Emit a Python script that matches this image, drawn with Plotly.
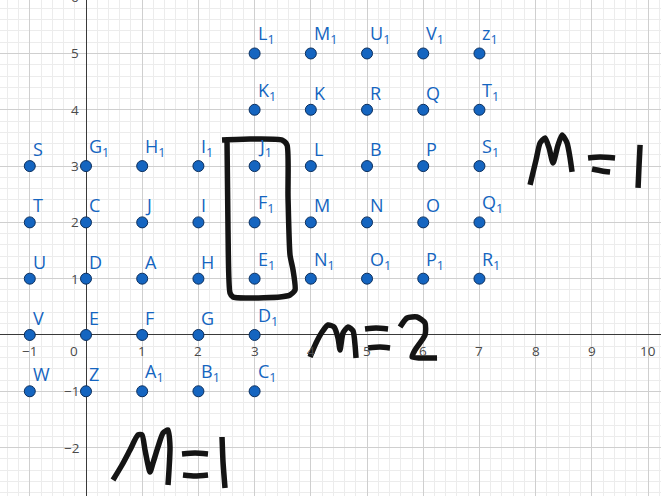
import plotly.graph_objects as go

# ---- data: labelled lattice points ----
names = ["L<sub>1</sub>", "M<sub>1</sub>", "U<sub>1</sub>", "V<sub>1</sub>", "z<sub>1</sub>",
         "K<sub>1</sub>", "K", "R", "Q", "T<sub>1</sub>",
         "S", "G<sub>1</sub>", "H<sub>1</sub>", "I<sub>1</sub>", "J<sub>1</sub>", "L", "B", "P", "S<sub>1</sub>",
         "T", "C", "J", "I", "F<sub>1</sub>", "M", "N", "O", "Q<sub>1</sub>",
         "U", "D", "A", "H", "E<sub>1</sub>", "N<sub>1</sub>", "O<sub>1</sub>", "P<sub>1</sub>", "R<sub>1</sub>",
         "V", "E", "F", "G", "D<sub>1</sub>",
         "W", "Z", "A<sub>1</sub>", "B<sub>1</sub>", "C<sub>1</sub>"]
xs = [3, 4, 5, 6, 7,
      3, 4, 5, 6, 7,
      -1, 0, 1, 2, 3, 4, 5, 6, 7,
      -1, 0, 1, 2, 3, 4, 5, 6, 7,
      -1, 0, 1, 2, 3, 4, 5, 6, 7,
      -1, 0, 1, 2, 3,
      -1, 0, 1, 2, 3]
ys = [5, 5, 5, 5, 5,
      4, 4, 4, 4, 4,
      3, 3, 3, 3, 3, 3, 3, 3, 3,
      2, 2, 2, 2, 2, 2, 2, 2, 2,
      1, 1, 1, 1, 1, 1, 1, 1, 1,
      0, 0, 0, 0, 0,
      -1, -1, -1, -1, -1]

x_ticks = [-1, 1, 2, 3, 4, 5, 6, 7, 8, 9, 10]
y_ticks = [-2, -1, 1, 2, 3, 4, 5, 6]

X_RANGE = [-1.53, 10.23]
Y_RANGE = [-2.86, 5.95]

# ---- handwritten ink, sketched in screen pixels, mapped to axis units ----
X0, Y0, UX, UY = 86.0, 335.0, 56.2, 56.3


def ink(pts):
    return [(px - X0) / UX for px, _ in pts], [(Y0 - py) / UY for _, py in pts]


strokes = [
    # rectangle
    [(222, 140), (250, 139), (282, 140), (287, 145), (288, 197), (290, 255), (293, 270),
     (295, 290), (290, 295), (280, 297), (247, 298), (233, 297), (230, 293), (228, 230), (227, 142)],
    # M = 1 (right)
    [(530, 185), (536, 160), (540, 143), (545, 138), (549, 148), (553, 163), (558, 145),
     (562, 135), (567, 143), (570, 158), (572, 172)],
    [(588, 158), (600, 157), (615, 158)],
    [(592, 169), (602, 171), (610, 172)],
    [(640, 145), (639, 165), (638, 188)],
    # m = 2
    [(310, 357), (316, 343), (322, 332), (328, 325), (334, 327), (338, 338), (340, 350),
     (343, 333), (348, 327), (353, 331), (355, 345), (356, 358)],
    [(365, 329), (376, 328), (388, 329)],
    [(368, 348), (380, 347), (390, 348)],
    [(400, 327), (407, 318), (417, 317), (425, 323), (425, 335), (415, 350), (412, 357),
     (420, 358), (437, 358)],
    # M = 1 (bottom)
    [(113, 480), (122, 465), (130, 450), (138, 435), (142, 435), (145, 450), (150, 472),
     (153, 463), (158, 447), (163, 433), (168, 430), (170, 447), (169, 470), (168, 485)],
    [(182, 454), (195, 453), (208, 454)],
    [(183, 475), (195, 476), (208, 475)],
    [(222, 437), (223, 462), (225, 488)],
]

BLUE = "#1565c0"
fig = go.Figure()

fig.add_trace(go.Scatter(
    x=xs, y=ys, mode="markers",
    marker=dict(size=11, color=BLUE, line=dict(color="#0b2f5e", width=1)),
    hoverinfo="skip", showlegend=False))

for s in strokes:
    sx, sy = ink(s)
    fig.add_trace(go.Scatter(
        x=sx, y=sy, mode="lines",
        line=dict(color="#141414", width=5.5, shape="spline", smoothing=0.6),
        hoverinfo="skip", showlegend=False))

annotations = []
for n, x, y in zip(names, xs, ys):
    annotations.append(dict(
        x=x, y=y, text=n, showarrow=False, xanchor="left", yanchor="bottom",
        xshift=1, yshift=3, font=dict(family="Open Sans", size=18, color=BLUE)))


def fmt(t):
    return ("−" + str(-t)) if t < 0 else str(t)


def ypaper(v):
    return (v - Y_RANGE[0]) / (Y_RANGE[1] - Y_RANGE[0])


tick_font = dict(family="Open Sans", size=13.5, color="#4a4a4a")
for t in x_ticks:
    annotations.append(dict(x=t, y=0, text=fmt(t), showarrow=False,
                            xanchor="center", yanchor="top", yshift=-5, font=tick_font))
annotations.append(dict(x=0, y=0, text="0", showarrow=False, xanchor="right",
                        yanchor="top", xshift=-6, yshift=-5, font=tick_font))
for t in y_ticks:
    annotations.append(dict(x=0, y=ypaper(t), yref="paper", text=fmt(t), showarrow=False,
                            xanchor="right", yanchor="middle", xshift=-5, font=tick_font))

axis_common = dict(
    showticklabels=False, ticks="", dtick=1, tick0=0,
    showgrid=True, gridcolor="#cfcfcf", gridwidth=1,
    minor=dict(dtick=0.2, showgrid=True, gridcolor="#ececec", gridwidth=1),
    zeroline=True, zerolinecolor="#3a3a3a", zerolinewidth=1.4,
    showline=False, fixedrange=True)

fig.update_layout(
    width=661, height=496,
    margin=dict(l=0, r=0, t=0, b=0),
    paper_bgcolor="white", plot_bgcolor="white",
    xaxis=dict(range=X_RANGE, **axis_common),
    yaxis=dict(range=Y_RANGE, **axis_common),
    annotations=annotations,
    showlegend=False)

fig.write_html("out.html", config={"displayModeBar": False},
               post_script="document.body.style.margin='0';document.body.style.overflow='hidden';")
